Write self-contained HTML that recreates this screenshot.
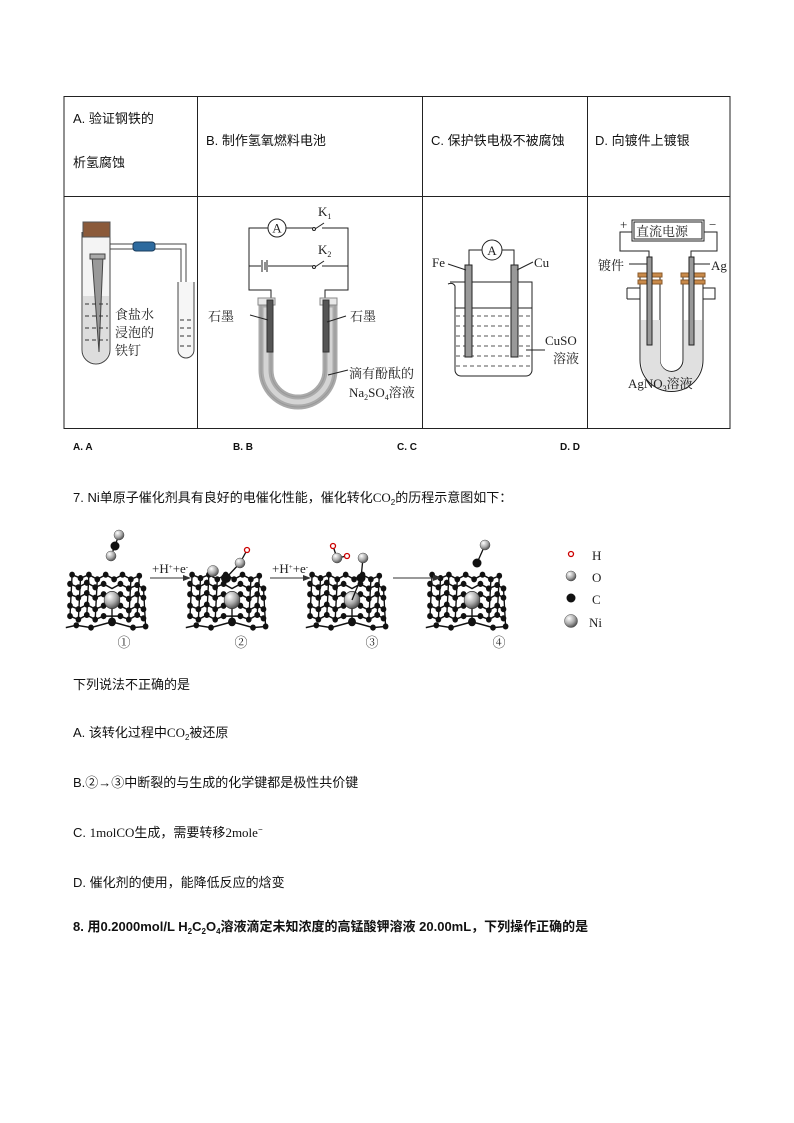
<!DOCTYPE html>
<html><head><meta charset="utf-8"><style>
html,body{margin:0;padding:0;background:#fff;}
svg{display:block}
text{font-family:"Liberation Serif","Noto Serif CJK SC",serif;}
.s{font-family:"Liberation Sans","Noto Sans CJK SC",sans-serif;font-size:13px;fill:#111}
.d{font-family:"Liberation Serif","Noto Serif CJK SC",serif;font-size:13px;fill:#222}
.ans{font-family:"Liberation Sans",sans-serif;font-size:10px;font-weight:bold;fill:#111}
</style></head><body>
<svg width="794" height="1123" viewBox="0 0 794 1123" xmlns="http://www.w3.org/2000/svg">
<defs>
<radialGradient id="sph" cx="35%" cy="30%" r="70%"><stop offset="0" stop-color="#fff"/><stop offset="0.6" stop-color="#aaa"/><stop offset="1" stop-color="#555"/></radialGradient>
<g id="lat">
 <g stroke="#111" stroke-width="1.3" fill="none">
  <polyline points="-38,-22 -30,-19 -22,-22 -14,-18 -6,-22 2,-18 10,-22 18,-18 26,-21"/>
  <polyline points="-40,-14 -32,-11 -24,-15 -16,-11 -8,-14 0,-10 8,-14 16,-10 24,-13 30,-10"/>
  <polyline points="-40,-5 -32,-2 -24,-6 -16,-2 -8,-5 8,-5 16,-1 24,-5 30,-2"/>
  <polyline points="-40,5 -32,8 -24,4 -16,8 -8,5 8,5 16,9 24,5 30,8"/>
  <polyline points="-40,14 -32,17 -24,13 -16,17 -8,14 8,14 16,17 24,13 30,16"/>
  <polyline points="-44,24 -34,22 -20,24 -8,21 0,19 8,21 20,24 32,23"/>
  <line x1="-38" y1="-22" x2="-40" y2="14"/><line x1="-30" y1="-19" x2="-32" y2="17"/>
  <line x1="-22" y1="-22" x2="-24" y2="13"/><line x1="-14" y1="-18" x2="-16" y2="17"/>
  <line x1="18" y1="-18" x2="16" y2="17"/><line x1="26" y1="-21" x2="24" y2="13"/>
  <line x1="0" y1="0" x2="0" y2="19"/><line x1="30" y1="-10" x2="32" y2="23"/>
 </g>
 <g fill="#111">
  <circle cx="-38" cy="-22" r="2.7"/><circle cx="-22" cy="-22" r="2.7"/><circle cx="-6" cy="-22" r="2.7"/><circle cx="10" cy="-22" r="2.7"/><circle cx="26" cy="-21" r="2.7"/>
  <circle cx="-30" cy="-19" r="2.7"/><circle cx="-14" cy="-18" r="2.7"/><circle cx="2" cy="-18" r="2.7"/><circle cx="18" cy="-18" r="2.7"/>
  <circle cx="-40" cy="-14" r="2.7"/><circle cx="-24" cy="-15" r="2.7"/><circle cx="-8" cy="-14" r="2.7"/><circle cx="8" cy="-14" r="2.7"/><circle cx="24" cy="-13" r="2.7"/>
  <circle cx="-32" cy="-11" r="2.7"/><circle cx="-16" cy="-11" r="2.7"/><circle cx="16" cy="-10" r="2.7"/><circle cx="30" cy="-10" r="2.7"/>
  <circle cx="-40" cy="-5" r="2.7"/><circle cx="-24" cy="-6" r="2.7"/><circle cx="-8" cy="-5" r="2.7"/><circle cx="8" cy="-5" r="2.7"/><circle cx="24" cy="-5" r="2.7"/>
  <circle cx="-32" cy="-2" r="2.7"/><circle cx="-16" cy="-2" r="2.7"/><circle cx="16" cy="-1" r="2.7"/><circle cx="30" cy="-2" r="2.7"/>
  <circle cx="-40" cy="5" r="2.7"/><circle cx="-24" cy="4" r="2.7"/><circle cx="-8" cy="5" r="2.7"/><circle cx="8" cy="5" r="2.7"/><circle cx="24" cy="5" r="2.7"/>
  <circle cx="-32" cy="8" r="2.7"/><circle cx="-16" cy="8" r="2.7"/><circle cx="16" cy="9" r="2.7"/><circle cx="30" cy="8" r="2.7"/>
  <circle cx="-40" cy="14" r="2.7"/><circle cx="-24" cy="13" r="2.7"/><circle cx="-8" cy="14" r="2.7"/><circle cx="8" cy="14" r="2.7"/><circle cx="24" cy="13" r="2.7"/>
  <circle cx="-32" cy="17" r="2.7"/><circle cx="-16" cy="17" r="2.7"/><circle cx="16" cy="17" r="2.7"/><circle cx="30" cy="16" r="2.7"/>
  <circle cx="-34" cy="22" r="2.7"/><circle cx="-20" cy="24" r="2.7"/><circle cx="0" cy="19" r="3.8"/><circle cx="20" cy="24" r="2.7"/><circle cx="32" cy="23" r="2.7"/>
 </g>
 <circle cx="0" cy="0" r="7.5" fill="url(#sph)" stroke="#333" stroke-width="0.6"/>
</g>
<marker id="ar" markerWidth="8" markerHeight="6" refX="7" refY="3" orient="auto"><path d="M0,0 L8,3 L0,6 z" fill="#333"/></marker>
</defs>

<!-- table -->
<g stroke="#222" stroke-width="1" fill="none">
 <rect x="64" y="96.5" width="666" height="332"/>
 <line x1="64" y1="196.5" x2="730" y2="196.5"/>
 <line x1="197.5" y1="96" x2="197.5" y2="428"/>
 <line x1="422.5" y1="96" x2="422.5" y2="428"/>
 <line x1="587.5" y1="96" x2="587.5" y2="428"/>
</g>
<text class="s" x="73" y="123">A.  验证钢铁的</text>
<text class="s" x="73" y="167">析氢腐蚀</text>
<text class="s" x="206" y="145">B.  制作氢氧燃料电池</text>
<text class="s" x="431" y="145">C.  保护铁电极不被腐蚀</text>
<text class="s" x="595" y="145">D.  向镀件上镀银</text>

<!-- Diagram A -->
<g stroke="#444" stroke-width="1" fill="none">
 <path d="M82,232 V350 a14,14 0 0 0 28,0 V232" fill="#f4f4f4"/>
 <path d="M83,296 V350 a13,13 0 0 0 26,0 V296 z" fill="#ddd" stroke="none"/>
 <rect x="83" y="222" width="27" height="15" fill="#8b5a3a" stroke="#555"/>
 <path d="M110,244 H186 V300 M110,249 H181 V300"/>
 <rect x="133" y="242" width="22" height="9" rx="3" fill="#2d6a9e" stroke="#1a3d5e"/>
 <path d="M178,282 V350 a8,8 0 0 0 16,0 V282" fill="#f6f6f6"/>
 <path d="M92,256 L99,352 L103,256" fill="#999"/>
 <rect x="90" y="254" width="15" height="5" fill="#aaa"/>
 <g stroke="#333" stroke-dasharray="4,3"><line x1="85" y1="304" x2="108" y2="304"/><line x1="85" y1="316" x2="108" y2="316"/><line x1="85" y1="328" x2="108" y2="328"/><line x1="85" y1="340" x2="108" y2="340"/><line x1="180" y1="320" x2="192" y2="320"/><line x1="180" y1="328" x2="192" y2="328"/><line x1="180" y1="336" x2="192" y2="336"/><line x1="180" y1="346" x2="192" y2="346"/></g>
</g>
<text class="d" x="115" y="319">食盐水</text>
<text class="d" x="115" y="337">浸泡的</text>
<text class="d" x="115" y="355">铁钉</text>

<!-- Diagram B -->
<g stroke="#222" stroke-width="1" fill="none">
 <path d="M268,228 H249 V290 H271 V300"/>
 <path d="M286,228 H313 M322,228 H348 V290 H325 V300"/>
 <line x1="315" y1="229" x2="324" y2="223"/><circle cx="314" cy="229" r="1.5"/>
 <path d="M249,266 H261 M268,266 H313 M322,266 H348"/>
 <line x1="315" y1="267" x2="324" y2="261"/><circle cx="314" cy="267" r="1.5"/>
 <line x1="262" y1="260" x2="262" y2="272"/><line x1="265" y1="262" x2="265" y2="270"/><line x1="267" y1="260" x2="267" y2="272"/>
 <circle cx="277" cy="228" r="9" fill="#fff"/>
 <path d="M261,305 V370 a37,37 0 0 0 74,0 V305 h-10 V370 a27,27 0 0 1 -54,0 V305 z" fill="#d4d4d4" stroke="#aaa" stroke-width="5"/>
 <path d="M261,305 V370 a37,37 0 0 0 74,0 V305 h-10 V370 a27,27 0 0 1 -54,0 V305 z" fill="none" stroke="#999" stroke-width="1"/>
 <rect x="258" y="298" width="17" height="7" fill="#e8e8e8" stroke="#888"/>
 <rect x="320" y="298" width="17" height="7" fill="#e8e8e8" stroke="#888"/>
 <rect x="267" y="300" width="6" height="52" fill="#555" stroke="#333"/>
 <rect x="323" y="300" width="6" height="52" fill="#555" stroke="#333"/>
 <line x1="250" y1="315" x2="268" y2="320"/><line x1="327" y1="322" x2="346" y2="316"/><line x1="328" y1="375" x2="348" y2="370"/>
</g>
<text class="d" x="277" y="232.5" text-anchor="middle" font-size="12">A</text>
<text class="d" x="318" y="216">K<tspan font-size="8" dy="3">1</tspan></text>
<text class="d" x="318" y="254">K<tspan font-size="8" dy="3">2</tspan></text>
<text class="d" x="208" y="321">石墨</text>
<text class="d" x="350" y="321">石墨</text>
<text class="d" x="349" y="378">滴有酚酞的</text>
<text class="d" x="349" y="397">Na<tspan font-size="8" dy="3">2</tspan><tspan dy="-3">SO</tspan><tspan font-size="8" dy="3">4</tspan><tspan dy="-3">溶液</tspan></text>

<!-- Diagram C -->
<g stroke="#222" stroke-width="1" fill="none">
 <path d="M469,265 V250 H482 M502,250 H514 V265"/>
 <circle cx="492" cy="250" r="10" fill="#fff"/>
 <path d="M448,284 q5,-2 7,2 V370 a6,6 0 0 0 6,6 H526 a6,6 0 0 0 6,-6 V282 H450"/>
 <line x1="455" y1="308" x2="532" y2="308"/>
 <g stroke-dasharray="4,3" stroke="#555"><line x1="456" y1="316" x2="531" y2="316"/><line x1="456" y1="326" x2="531" y2="326"/><line x1="456" y1="336" x2="531" y2="336"/><line x1="456" y1="346" x2="531" y2="346"/><line x1="456" y1="356" x2="531" y2="356"/><line x1="456" y1="366" x2="531" y2="366"/></g>
 <rect x="465" y="265" width="7" height="92" fill="#999"/>
 <rect x="511" y="265" width="7" height="92" fill="#999"/>
 <line x1="448" y1="264" x2="466" y2="270"/><line x1="517" y1="270" x2="533" y2="262"/><line x1="526" y1="350" x2="545" y2="350"/>
</g>
<text class="d" x="492" y="255" text-anchor="middle" font-size="12">A</text>
<text class="d" x="432" y="267" font-size="14">Fe</text>
<text class="d" x="534" y="267" font-size="14">Cu</text>
<text class="d" x="545" y="345" font-size="14">CuSO</text>
<text class="d" x="553" y="363" font-size="14">溶液</text>

<!-- Diagram D -->
<g stroke="#222" stroke-width="1" fill="none">
 <rect x="634" y="222" width="68" height="17"/>
 <rect x="632" y="220" width="72" height="21"/>
 <path d="M632,232 H620 V251 H649 V257 M704,232 H717 V251 H691 V257"/>
 <path d="M640,275 V360 a31,31 0 0 0 63,0 V275 h-20 V360 a11,11 0 0 1 -23,0 V275 z" fill="#fff"/>
 <path d="M641,320 V360 a30,30 0 0 0 61,0 V320 h-18 V360 a12,12 0 0 1 -24,0 V320 z" fill="#e0e0e0" stroke="none"/>
 <path d="M627,288 H640 M627,299 H640 M627,288 V299 M703,288 H715 V299 H703"/>
 <rect x="638" y="273" width="24" height="4" fill="#c98a4a" stroke="#8a5a2a"/>
 <rect x="638" y="280" width="24" height="4" fill="#c98a4a" stroke="#8a5a2a"/>
 <rect x="681" y="273" width="24" height="4" fill="#c98a4a" stroke="#8a5a2a"/>
 <rect x="681" y="280" width="24" height="4" fill="#c98a4a" stroke="#8a5a2a"/>
 <rect x="647" y="257" width="5" height="88" fill="#999"/>
 <rect x="689" y="257" width="5" height="88" fill="#999"/>
 <line x1="629" y1="264" x2="647" y2="264"/><line x1="694" y1="264" x2="710" y2="264"/>
</g>
<text class="d" x="636" y="236" font-size="14">直流电源</text>
<text class="d" x="620" y="229">+</text>
<text class="d" x="709" y="229">−</text>
<text class="d" x="598" y="270" font-size="14">镀件</text>
<text class="d" x="711" y="270" font-size="14">Ag</text>
<text class="d" x="628" y="388" font-size="14">AgNO<tspan font-size="8" dy="3">3</tspan><tspan dy="-3">溶液</tspan></text>

<!-- answer row -->
<text class="ans" x="73" y="450">A. A</text><text class="ans" x="233" y="450">B. B</text><text class="ans" x="397" y="450">C. C</text><text class="ans" x="560" y="450">D. D</text>

<text class="s" x="73" y="502">7. Ni单原子催化剂具有良好的电催化性能，催化转化<tspan font-family="Liberation Serif">CO</tspan><tspan font-size="8" dy="3">2</tspan><tspan dy="-3">的历程示意图如下：</tspan></text>

<!-- catalyst figure -->
<use href="#lat" transform="translate(112,600) scale(1.05,1.15)"/>
<use href="#lat" transform="translate(232,600) scale(1.05,1.15)"/>
<use href="#lat" transform="translate(352,600) scale(1.05,1.15)"/>
<use href="#lat" transform="translate(472,600) scale(1.05,1.15)"/>
<g stroke="#111" stroke-width="1.3">
 <line x1="119" y1="535" x2="111" y2="556"/>
 <line x1="240" y1="563" x2="247" y2="550"/><line x1="240" y1="563" x2="226" y2="578"/>
 <line x1="337" y1="558" x2="333" y2="546"/><line x1="337" y1="558" x2="347" y2="556"/>
 <line x1="363" y1="558" x2="361" y2="578"/><line x1="361" y1="578" x2="352" y2="600"/>
 <line x1="485" y1="545" x2="477" y2="563"/>
</g>
<circle cx="119" cy="535" r="5" fill="url(#sph)" stroke="#444" stroke-width="0.5"/>
<circle cx="115" cy="546" r="4.5" fill="#111"/>
<circle cx="111" cy="556" r="5" fill="url(#sph)" stroke="#444" stroke-width="0.5"/>
<circle cx="213" cy="571" r="5.5" fill="url(#sph)" stroke="#444" stroke-width="0.5"/>
<circle cx="226" cy="578" r="5" fill="#111"/>
<circle cx="240" cy="563" r="5" fill="url(#sph)" stroke="#444" stroke-width="0.5"/>
<circle cx="247" cy="550" r="2.5" fill="#fff" stroke="#c00" stroke-width="1.3"/>
<circle cx="337" cy="558" r="5" fill="url(#sph)" stroke="#444" stroke-width="0.5"/>
<circle cx="333" cy="546" r="2.5" fill="#fff" stroke="#c00" stroke-width="1.3"/>
<circle cx="347" cy="556" r="2.5" fill="#fff" stroke="#c00" stroke-width="1.3"/>
<circle cx="363" cy="558" r="5" fill="url(#sph)" stroke="#444" stroke-width="0.5"/>
<circle cx="361" cy="578" r="4.5" fill="#111"/>
<circle cx="485" cy="545" r="5" fill="url(#sph)" stroke="#444" stroke-width="0.5"/>
<circle cx="477" cy="563" r="4.5" fill="#111"/>
<g stroke="#333" stroke-width="1"><line x1="150" y1="578" x2="190" y2="578" marker-end="url(#ar)"/><line x1="270" y1="578" x2="310" y2="578" marker-end="url(#ar)"/><line x1="393" y1="578" x2="440" y2="578" marker-end="url(#ar)"/></g>
<text class="d" x="152" y="573" font-size="11">+H<tspan font-size="7" dy="-4">+</tspan><tspan dy="4">+e</tspan><tspan font-size="7" dy="-4">-</tspan></text>
<text class="d" x="272" y="573" font-size="11">+H<tspan font-size="7" dy="-4">+</tspan><tspan dy="4">+e</tspan><tspan font-size="7" dy="-4">-</tspan></text>
<circle cx="571" cy="554" r="2.5" fill="#fff" stroke="#c00" stroke-width="1.3"/>
<circle cx="571" cy="576" r="5" fill="url(#sph)" stroke="#444" stroke-width="0.5"/>
<circle cx="571" cy="598" r="4.5" fill="#111"/>
<circle cx="571" cy="621" r="6.5" fill="url(#sph)" stroke="#444" stroke-width="0.5"/>
<text class="d" x="592" y="560" font-size="12">H</text>
<text class="d" x="592" y="582" font-size="12">O</text>
<text class="d" x="592" y="604" font-size="12">C</text>
<text class="d" x="589" y="627" font-size="12">Ni</text>
<text class="d" x="124" y="647" text-anchor="middle" font-size="14">①</text>
<text class="d" x="241" y="647" text-anchor="middle" font-size="14">②</text>
<text class="d" x="372" y="647" text-anchor="middle" font-size="14">③</text>
<text class="d" x="499" y="647" text-anchor="middle" font-size="14">④</text>

<text class="s" x="73" y="689">下列说法不正确的是</text>
<text class="s" x="73" y="737">A.  该转化过程中<tspan font-family="Liberation Serif">CO</tspan><tspan font-size="8" dy="3">2</tspan><tspan dy="-3">被还原</tspan></text>
<text class="s" x="73" y="787">B.②→③中断裂的与生成的化学键都是极性共价键</text>
<text class="s" x="73" y="837">C.  <tspan font-family="Liberation Serif">1molCO</tspan>生成，需要转移<tspan font-family="Liberation Serif">2mole</tspan><tspan font-size="8" dy="-5">−</tspan></text>
<text class="s" x="73" y="887">D.  催化剂的使用，能降低反应的焓变</text>
<text class="s" x="73" y="931" font-weight="bold">8.  用0.2000mol/L H<tspan font-size="8" dy="3">2</tspan><tspan dy="-3">C</tspan><tspan font-size="8" dy="3">2</tspan><tspan dy="-3">O</tspan><tspan font-size="8" dy="3">4</tspan><tspan dy="-3">溶液滴定未知浓度的高锰酸钾溶液 20.00mL，下列操作正确的是</tspan></text>
</svg>
</body></html>
